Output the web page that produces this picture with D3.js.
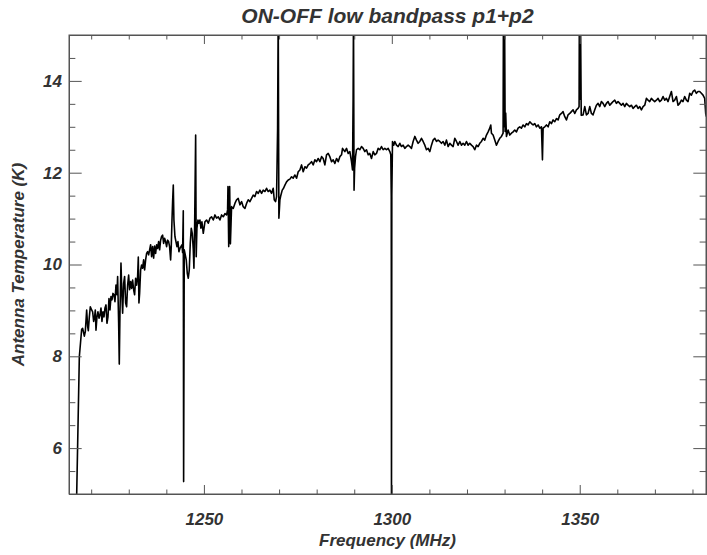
<!DOCTYPE html>
<html>
<head>
<meta charset="utf-8">
<script src="https://cdn.jsdelivr.net/npm/d3@7"></script>
<style>
  body { margin: 0; background: #fff; }
  text { font-family: "Liberation Sans", Arial, sans-serif; font-weight: bold; font-style: italic; fill: #333; }
</style>
</head>
<body>
<div id="chart"></div>
<script>
// spectrum (frequency in MHz, antenna temperature in K)
const freqMHz = [
  1216.15,1216.85,1217.47,1217.73,1218.18,1218.44,1218.80,1219.06,1219.24,1219.51,
  1219.77,1220.13,1220.39,1220.66,1220.92,1221.10,1221.28,1221.54,1221.81,1222.08,
  1222.34,1222.61,1222.87,1223.14,1223.41,1223.67,1223.94,1224.20,1224.47,1224.74,
  1225.00,1225.27,1225.53,1225.80,1226.07,1226.33,1226.60,1226.86,1227.04,1227.31,
  1227.48,1227.66,1227.93,1228.19,1228.37,1228.64,1228.90,1229.17,1229.43,1229.70,
  1229.97,1230.23,1230.50,1230.76,1231.03,1231.30,1231.56,1231.83,1232.09,1232.36,
  1232.54,1232.71,1232.89,1233.16,1233.42,1233.69,1233.96,1234.22,1234.49,1234.75,
  1235.02,1235.29,1235.55,1235.82,1236.08,1236.35,1236.62,1236.88,1237.15,1237.41,
  1237.68,1237.95,1238.21,1238.48,1238.74,1239.01,1239.28,1239.54,1239.81,1240.07,
  1240.34,1240.61,1240.87,1241.14,1241.31,1241.49,1241.67,1241.85,1242.02,1242.29,
  1242.56,1242.82,1243.09,1243.35,1243.62,1243.89,1244.15,1244.33,1244.51,1244.60,
  1244.77,1245.04,1245.30,1245.57,1245.84,1246.10,1246.37,1246.63,1246.90,1247.17,
  1247.34,1247.52,1247.80,1247.95,1248.14,1248.41,1248.67,1248.94,1249.20,1249.47,
  1249.83,1250.27,1250.71,1251.16,1251.60,1252.04,1252.49,1252.93,1253.37,1253.82,
  1254.26,1254.70,1255.15,1255.59,1256.03,1256.30,1256.40,1256.60,1256.85,1257.05,
  1257.36,1257.80,1258.25,1258.69,1259.13,1259.58,1260.02,1260.46,1260.91,1261.35,
  1261.79,1262.24,1262.68,1263.12,1263.57,1264.01,1264.45,1264.90,1265.34,1265.78,
  1266.23,1266.67,1267.11,1267.56,1268.00,1268.44,1268.71,1269.06,1269.33,1269.60,
  1269.77,1269.95,1270.22,1270.48,1270.84,1271.19,1271.55,1271.99,1272.43,1272.88,
  1273.32,1273.76,1274.21,1274.65,1275.09,1275.54,1275.98,1276.42,1276.87,1277.31,
  1277.75,1278.19,1278.64,1279.08,1279.53,1279.97,1280.41,1280.86,1281.30,1281.74,
  1282.18,1282.63,1283.07,1283.51,1283.96,1284.40,1284.84,1285.29,1285.73,1286.17,
  1286.62,1286.88,1287.24,1287.50,1287.94,1288.39,1288.83,1289.27,1289.54,1289.70,
  1289.80,1289.95,1290.10,1290.34,1290.60,1291.05,1291.49,1291.93,1292.38,1292.82,
  1293.26,1293.71,1294.15,1294.59,1295.04,1295.48,1295.92,1296.37,1296.81,1297.25,
  1297.69,1298.14,1298.58,1299.02,1299.47,1299.73,1299.85,1299.91,1300.00,1300.18,
  1300.53,1300.80,1301.24,1301.68,1302.13,1302.57,1303.01,1303.46,1303.90,1304.34,
  1304.79,1305.23,1305.67,1306.12,1306.56,1307.00,1307.45,1307.89,1308.33,1308.78,
  1309.22,1309.66,1310.11,1310.55,1310.99,1311.44,1311.88,1312.32,1312.77,1313.21,
  1313.65,1314.10,1314.54,1314.98,1315.43,1315.87,1316.31,1316.76,1317.20,1317.64,
  1318.09,1318.53,1318.97,1319.41,1319.86,1320.30,1320.74,1321.19,1321.63,1322.07,
  1322.52,1322.96,1323.40,1323.85,1324.29,1324.73,1325.18,1325.62,1326.06,1326.33,
  1326.51,1326.95,1327.39,1327.84,1328.28,1328.72,1329.17,1329.61,1329.70,1329.85,
  1330.00,1330.15,1330.30,1330.50,1330.94,1331.38,1331.83,1332.27,1332.71,1333.16,
  1333.60,1334.04,1334.49,1334.94,1335.38,1335.82,1336.27,1336.71,1337.15,1337.60,
  1338.04,1338.48,1338.93,1339.37,1339.81,1340.08,1340.26,1340.70,1341.14,1341.59,
  1342.03,1342.47,1342.92,1343.36,1343.80,1344.25,1344.69,1345.13,1345.57,1346.02,
  1346.46,1346.90,1347.35,1347.79,1348.23,1348.68,1349.12,1349.56,1349.83,1349.90,
  1350.05,1350.20,1350.40,1350.89,1351.34,1351.78,1352.22,1352.67,1353.11,1353.55,
  1354.00,1354.44,1354.88,1355.33,1355.77,1356.21,1356.66,1357.10,1357.54,1357.99,
  1358.43,1358.87,1359.32,1359.76,1360.20,1360.65,1361.09,1361.53,1361.98,1362.42,
  1362.86,1363.31,1363.75,1364.19,1364.64,1365.08,1365.52,1365.97,1366.41,1366.85,
  1367.30,1367.74,1368.18,1368.62,1369.07,1369.51,1369.95,1370.40,1370.84,1371.28,
  1371.73,1372.17,1372.61,1373.06,1373.50,1373.94,1374.39,1374.83,1375.27,1375.72,
  1376.16,1376.60,1377.05,1377.49,1377.93,1378.38,1378.82,1379.26,1379.71,1380.15,
  1380.59,1381.04,1381.48,1381.92,1382.37,1382.81,1383.25,1383.52,1383.69
];
const tempK = [
  5.00,7.99,8.59,8.61,8.44,8.54,9.01,8.65,8.56,8.86,
  9.08,9.01,8.97,8.76,8.86,9.01,8.57,8.86,8.97,8.83,
  8.90,9.05,8.76,8.97,8.86,9.05,9.12,8.72,8.86,9.26,
  9.01,9.30,9.23,9.37,9.34,9.19,9.55,9.34,9.74,8.72,
  7.83,8.94,10.03,9.30,8.94,9.59,9.74,9.16,9.08,9.55,
  9.77,9.45,9.63,9.48,9.66,9.45,9.34,9.70,9.55,9.74,
  10.16,9.16,9.37,9.88,9.99,9.92,10.10,9.88,10.10,10.24,
  10.28,10.21,10.32,10.43,10.17,10.39,10.14,10.40,10.24,10.43,
  10.35,10.50,10.32,10.53,10.61,10.64,10.46,10.57,10.50,10.39,
  10.53,10.50,10.39,10.10,10.39,10.93,11.37,11.73,10.97,10.61,
  10.50,10.39,10.50,10.28,10.35,10.39,10.43,10.26,11.17,5.27,
  10.32,10.21,10.10,9.81,9.70,9.88,10.46,10.79,10.68,10.32,
  9.92,10.75,12.82,10.17,10.79,10.97,10.90,10.97,10.79,10.93,
  10.68,10.93,10.97,10.90,11.01,11.04,10.97,11.08,11.01,11.04,
  10.97,11.08,11.04,11.11,11.08,11.19,11.70,10.39,11.70,10.45,
  11.26,11.22,11.33,11.41,11.44,11.30,11.37,11.26,11.22,11.33,
  11.41,11.37,11.44,11.51,11.48,11.59,11.55,11.62,11.55,11.62,
  11.59,11.66,11.59,11.62,11.55,11.66,11.41,11.37,11.48,12.93,
  15.50,11.01,11.41,11.51,11.62,11.66,11.73,11.80,11.84,11.86,
  11.91,11.88,11.95,11.88,12.02,12.06,12.17,12.02,12.13,12.10,
  12.17,12.20,12.24,12.17,12.28,12.24,12.31,12.24,12.35,12.31,
  12.17,12.39,12.42,12.35,12.24,12.28,12.20,12.31,12.24,12.35,
  12.39,12.53,12.49,12.46,12.53,12.42,12.46,12.24,12.06,13.60,
  15.50,11.62,12.10,12.35,12.50,12.53,12.50,12.57,12.53,12.46,
  12.50,12.39,12.42,12.31,12.46,12.39,12.42,12.53,12.50,12.57,
  12.50,12.53,12.50,12.53,12.46,12.39,11.48,4.80,11.50,12.68,
  12.60,12.68,12.60,12.57,12.64,12.57,12.60,12.53,12.57,12.60,
  12.57,12.53,12.68,12.79,12.71,12.64,12.68,12.75,12.68,12.60,
  12.50,12.53,12.46,12.60,12.71,12.75,12.68,12.71,12.68,12.64,
  12.68,12.60,12.71,12.57,12.64,12.60,12.57,12.75,12.68,12.60,
  12.68,12.60,12.64,12.60,12.68,12.60,12.64,12.60,12.57,12.50,
  12.60,12.57,12.64,12.68,12.75,12.71,12.82,12.89,12.97,13.04,
  12.86,12.82,12.71,12.60,12.68,12.75,12.79,12.86,15.50,13.00,
  15.50,12.90,13.30,12.79,12.93,12.82,12.86,12.89,12.93,12.89,
  12.97,13.00,12.97,13.04,13.00,13.07,13.04,13.11,13.07,13.04,
  13.07,13.00,13.04,12.97,13.00,12.28,12.97,13.00,13.04,13.00,
  13.11,13.07,13.15,13.11,13.18,13.15,13.26,13.29,13.33,13.22,
  13.15,13.26,13.29,13.33,13.37,13.29,13.37,13.40,13.44,15.50,
  13.60,15.50,13.25,13.26,13.44,13.26,13.29,13.44,13.29,13.26,
  13.37,13.47,13.51,13.44,13.55,13.51,13.44,13.51,13.55,13.47,
  13.51,13.55,13.58,13.51,13.55,13.51,13.47,13.51,13.44,13.51,
  13.47,13.44,13.47,13.40,13.44,13.47,13.40,13.44,13.37,13.44,
  13.47,13.62,13.58,13.55,13.62,13.58,13.55,13.58,13.62,13.55,
  13.58,13.66,13.58,13.62,13.55,13.66,13.77,13.55,13.58,13.66,
  13.47,13.51,13.58,13.55,13.66,13.58,13.55,13.73,13.69,13.77,
  13.80,13.73,13.77,13.77,13.73,13.69,13.62,13.29,13.22
];

const xMajorTicks = [1250, 1300, 1350];
const xMinorTicks = [1220, 1230, 1240, 1260, 1270, 1280, 1290, 1310, 1320, 1330, 1340, 1360, 1370, 1380];
const yMajorTicks = [6, 8, 10, 12, 14];
const yMinorTicks = [5.5, 6.5, 7, 7.5, 8.5, 9, 9.5, 10.5, 11, 11.5, 12.5, 13, 13.5, 14.5];

const W = 707, H = 555;
const margin = {top: 35, right: 1, bottom: 61, left: 69},
      width = W - margin.left - margin.right,
      height = H - margin.top - margin.bottom;

const svg = d3.select("#chart").append("svg")
    .attr("width", W)
    .attr("height", H);

const g = svg.append("g")
    .attr("transform", `translate(${margin.left},${margin.top})`);

const x = d3.scaleLinear().domain([1214.1, 1383.6]).range([0, width]);
const y = d3.scaleLinear().domain([5, 15]).range([height, 0]);

const data = freqMHz.map((f, i) => ({f: f, t: tempK[i]}));

// clip the trace to the plot box
svg.append("defs").append("clipPath").attr("id", "plotclip")
  .append("rect").attr("width", width).attr("height", height);

const line = d3.line().x(d => x(d.f)).y(d => y(d.t));

g.append("path")
    .datum(data)
    .attr("clip-path", "url(#plotclip)")
    .attr("fill", "none")
    .attr("stroke", "#000")
    .attr("stroke-width", 1.6)
    .attr("stroke-linejoin", "round")
    .attr("d", line);

// axes: ticks point into the plot, IDL style
const xTickLen = 9, yTickLen = 12.7;
function styleAxis(sel) {
  sel.selectAll("path, line").attr("stroke", "#555").attr("stroke-width", 1);
}

g.append("g").attr("transform", `translate(0,${height})`)
  .call(d3.axisBottom(x).tickValues(xMajorTicks).tickSizeInner(-xTickLen).tickSizeOuter(0)
        .tickPadding(19).tickFormat(d3.format("d")))
  .call(styleAxis)
  .call(a => a.selectAll("text").style("font-size", "17px").attr("fill", "#333"));
g.append("g").attr("transform", `translate(0,${height})`)
  .call(d3.axisBottom(x).tickValues(xMinorTicks).tickSize(-xTickLen / 2).tickFormat(""))
  .call(styleAxis);
g.append("g")
  .call(d3.axisTop(x).tickValues(xMajorTicks).tickSize(-xTickLen).tickFormat(""))
  .call(styleAxis);
g.append("g")
  .call(d3.axisTop(x).tickValues(xMinorTicks).tickSize(-xTickLen / 2).tickFormat(""))
  .call(styleAxis);

g.append("g")
  .call(d3.axisLeft(y).tickValues(yMajorTicks).tickSizeInner(-yTickLen).tickSizeOuter(0)
        .tickPadding(7).tickFormat(d3.format("d")))
  .call(styleAxis)
  .call(a => a.selectAll("text").style("font-size", "17px").attr("fill", "#333"));
g.append("g")
  .call(d3.axisLeft(y).tickValues(yMinorTicks).tickSize(-yTickLen / 2).tickFormat(""))
  .call(styleAxis);
g.append("g").attr("transform", `translate(${width},0)`)
  .call(d3.axisRight(y).tickValues(yMajorTicks).tickSize(-yTickLen).tickFormat(""))
  .call(styleAxis);
g.append("g").attr("transform", `translate(${width},0)`)
  .call(d3.axisRight(y).tickValues(yMinorTicks).tickSize(-yTickLen / 2).tickFormat(""))
  .call(styleAxis);

// plot box
g.append("rect")
    .attr("width", width).attr("height", height)
    .attr("fill", "none").attr("stroke", "#555").attr("stroke-width", 1);

// titles
svg.append("text")
    .attr("x", margin.left + width / 2).attr("y", 23)
    .attr("text-anchor", "middle")
    .style("font-size", "21px")
    .text("ON-OFF low bandpass p1+p2");

svg.append("text")
    .attr("x", margin.left + width / 2).attr("y", 546)
    .attr("text-anchor", "middle")
    .style("font-size", "17px")
    .text("Frequency (MHz)");

svg.append("text")
    .attr("transform", `translate(24,${margin.top + height / 2}) rotate(-90)`)
    .attr("text-anchor", "middle")
    .style("font-size", "17px")
    .text("Antenna Temperature (K)");
</script>
</body>
</html>
